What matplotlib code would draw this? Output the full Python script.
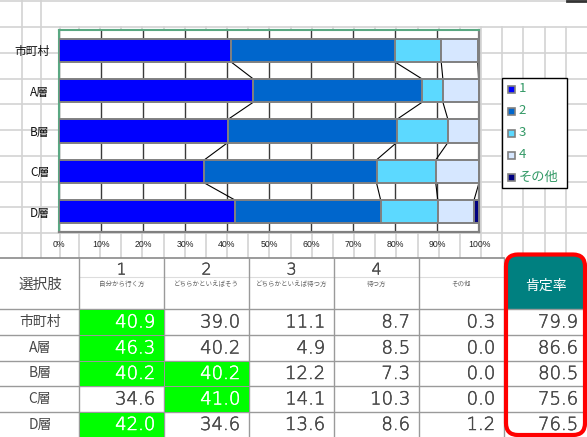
import matplotlib
matplotlib.use("Agg")
import matplotlib.pyplot as plt
import matplotlib.patheffects as pe
from matplotlib.patches import Rectangle, FancyBboxPatch
import numpy as np

plt.rcParams["font.family"] = ["Noto Sans CJK JP", "DejaVu Sans"]

# ---- data ----
groups = ["市町村", "A層", "B層", "C層", "D層"]
series_names = ["1", "2", "3", "4", "その他"]
sub_labels = ["自分から行く方", "どちらかといえばそう", "どちらかといえば待つ方", "待つ方", "その他"]
v1 = [40.9, 46.3, 40.2, 34.6, 42.0]
v2 = [39.0, 40.2, 40.2, 41.0, 34.6]
v3 = [11.1, 4.9, 12.2, 14.1, 13.6]
v4 = [8.7, 8.5, 7.3, 10.3, 8.6]
v_other = [0.3, 0.0, 0.0, 0.0, 1.2]
positive_rate = [79.9, 86.6, 80.5, 75.6, 76.5]
highlight = [[1, 0], [1, 0], [1, 1], [0, 1], [1, 0]]  # shaded cells in columns 1 and 2
x_ticks = list(range(0, 101, 10))

series = [v1, v2, v3, v4, v_other]
colors = ["#0000FF", "#0066CC", "#5CD9FF", "#D6E7FF", "#000080"]

W, H = 587, 437
fig = plt.figure(figsize=(W / 100, H / 100), dpi=100)

# ---- worksheet background (pixel coordinates) ----
bg = fig.add_axes([0, 0, 1, 1])
bg.set_xlim(0, W)
bg.set_ylim(H, 0)
bg.axis("off")

grid_c = "#D3D3D3"
row_lines = [1, 27, 53, 79, 104, 130, 156, 182, 207, 233]
col_lines = [22, 41, 60] + [79 + 21.16 * k for k in range(24)]
for y in row_lines:
    bg.plot([0, W], [y, y], color=grid_c, lw=1.2, zorder=0)
for x in col_lines:
    if x in (22, 41) or abs(x - 566.7) < 1:
        y0 = 0
    else:
        y0 = 27
    bg.plot([x, x], [y0, 258], color=grid_c, lw=1.2, zorder=0)
bg.plot([567, W], [0.8, 0.8], color="#333333", lw=2, zorder=1)

# ---- bar chart ----
ax = fig.add_axes([59 / W, 1 - 232 / H, 420 / W, 202 / H])
ax.set_facecolor("white")
ypos = np.arange(len(groups))
bh = 0.57
left = np.zeros(len(groups))
cum = []
for vals, col in zip(series, colors):
    vals = np.array(vals)
    ax.barh(ypos, vals, left=left, height=bh, color=col,
            edgecolor="#808080", linewidth=1.4, zorder=3)
    left = left + vals
    cum.append(left.copy())

# series lines joining the segment boundaries of neighbouring bars
for k in range(4):
    for i in range(len(groups) - 1):
        ax.plot([cum[k][i], cum[k][i + 1]], [i + bh / 2, i + 1 - bh / 2],
                color="black", lw=0.8, zorder=2)

ax.set_xlim(0, 100)
ax.set_ylim(len(groups) - 0.5, -0.5)
ax.set_xticks(x_ticks)
ax.set_xticklabels([f"{t}%" for t in x_ticks], fontsize=6.3,
                   family=["Liberation Sans", "DejaVu Sans"], color="#222222")
ax.set_yticks(ypos)
ax.set_yticklabels(groups, fontsize=8.5, color="#111111")
ax.tick_params(axis="x", length=0, pad=6)
ax.tick_params(axis="y", length=0, pad=7)
ax.grid(axis="x", color="#3A3A3A", lw=1)
ax.set_axisbelow(True)
for s in ("top", "left"):
    ax.spines[s].set_color("#5AA882")
    ax.spines[s].set_linewidth(1.5)
for s in ("right", "bottom"):
    ax.spines[s].set_color("#808080")
    ax.spines[s].set_linewidth(1.6)

# ---- legend ----
bg.add_patch(Rectangle((502, 78), 65, 110, facecolor="white",
                       edgecolor="black", lw=1, zorder=4))
leg_y = [89, 111, 133, 155, 177]
for name, col, y in zip(series_names, colors, leg_y):
    bg.add_patch(Rectangle((508, y - 3.5), 7, 7, facecolor=col,
                           edgecolor="#808080", lw=1.2, zorder=5))
    bg.text(518.5, y, name, fontsize=9.5, color="#339966", va="center",
            ha="left", zorder=5)

# ---- table ----
cols = [0, 79, 164, 249, 334, 419, 504, 587]
rows = [309, 335, 361, 386, 412, 437]
bg.add_patch(Rectangle((0, 258), W, H - 258, facecolor="white",
                       edgecolor="none", zorder=2))

# header cell of the rate column
bg.add_patch(FancyBboxPatch((506, 254), 79, 80,
                            boxstyle="round,pad=0,rounding_size=12",
                            facecolor="#008080", edgecolor="none", zorder=3))
bg.add_patch(Rectangle((505, 309), 81, 130, facecolor="white",
                       edgecolor="none", zorder=3))

# green highlighted cells
for r, flags in enumerate(highlight):
    for c, f in enumerate(flags):
        if f:
            bg.add_patch(Rectangle((cols[c + 1] + 1, rows[r] + 1),
                                   cols[c + 2] - cols[c + 1] - 1,
                                   rows[r + 1] - rows[r] - 1.5,
                                   facecolor="#00FF00", edgecolor="none",
                                   zorder=3.5))

line_c = "#9A9A9A"
bg.plot([0, 504], [258, 258], color="#8A8A8A", lw=1.2, zorder=3)
bg.plot([79, 504], [277, 277], color="#DDDDDD", lw=0.8, zorder=3)
for y in rows[:-1]:
    bg.plot([0, W], [y, y], color=line_c, lw=1, zorder=3)
for x in cols[1:-1]:
    bg.plot([x, x], [258, H], color=line_c, lw=1, zorder=3)

txt_c = "#484848"


def num_text(x, y, s, size, color, ha):
    t = bg.text(x, y, s, fontsize=size, color=color, ha=ha, va="center",
                family=["DejaVu Sans"], fontweight="light", zorder=5)
    t.set_path_effects([pe.withStroke(linewidth=0.35, foreground=color)])
    return t


bg.text(40, 285, "選択肢", fontsize=10.5, color=txt_c, ha="center",
        va="center", zorder=5)
for c in range(5):
    cx = (cols[c + 1] + cols[c + 2]) / 2
    if c < 4:
        num_text(cx, 270, str(c + 1), 11.5, txt_c, "center")
    bg.text(cx, 284, sub_labels[c], fontsize=4.7, color="#666666",
            ha="center", va="center", zorder=5)
bg.text(546, 286, "肯定率", fontsize=10, color="white", ha="center",
        va="center", zorder=5)

for r, g in enumerate(groups):
    cy = (rows[r] + rows[r + 1]) / 2
    bg.text(40, cy, g, fontsize=10, color=txt_c, ha="center",
            va="center", zorder=5)
    vals = [series[c][r] for c in range(5)] + [positive_rate[r]]
    for c, v in enumerate(vals):
        lit = c < 2 and highlight[r][c]
        num_text(cols[c + 2] - 9, cy + 0.5, f"{v:.1f}", 13,
                 "white" if lit else txt_c, "right")

bg.add_patch(FancyBboxPatch((506, 254.5), 79, 180.5,
                            boxstyle="round,pad=0,rounding_size=12",
                            facecolor="none", edgecolor="#FF0000", lw=3,
                            zorder=6))

fig.savefig("out.png", dpi=100)
